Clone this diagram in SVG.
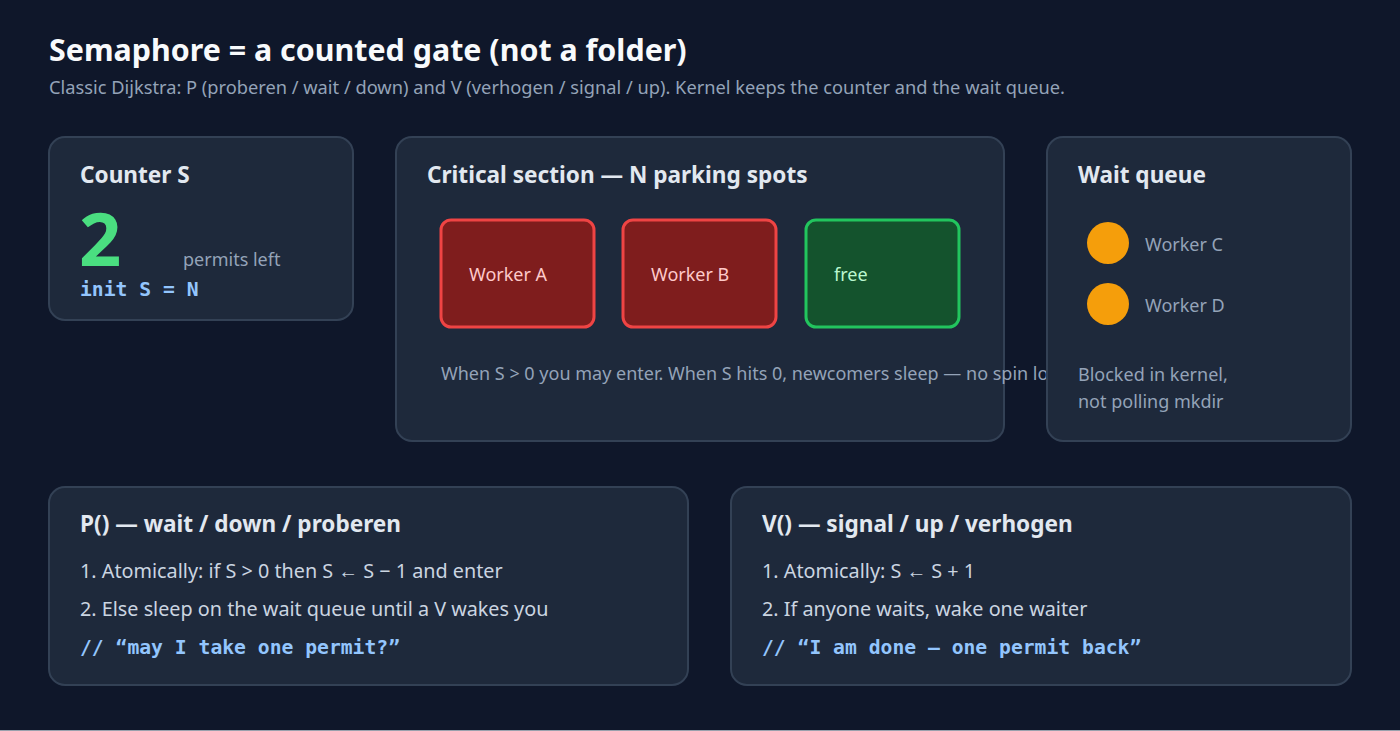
<svg xmlns="http://www.w3.org/2000/svg" width="1400" height="731" viewBox="0 0 1400 731">
<style>
.bg{fill:#0f172a}
.card{fill:#1e293b;stroke:#334155;stroke-width:2}
.t{font-family:"Noto Sans","Liberation Sans",sans-serif}
.h1{font-size:30.4px;font-weight:700;fill:#f8fafc}
.sub{font-size:18.25px;fill:#94a3b8}
.h2{font-size:22.6px;font-weight:700;fill:#e2e8f0}
.muted{font-size:18px;fill:#94a3b8}
.body{font-size:19.8px;fill:#cbd5e1}
.mono{font-family:"DejaVu Sans Mono","Liberation Mono",monospace;font-weight:700;font-size:19.7px;fill:#93c5fd}
.busy{fill:#7f1d1d;stroke:#ef4444;stroke-width:3}
.free{fill:#14532d;stroke:#22c55e;stroke-width:3}
.dot{fill:#f59e0b}
</style>
<rect class="bg" x="0" y="0" width="1400" height="731"/>
<rect x="0" y="730" width="1400" height="1" fill="#9aa1ad"/>
<text class="t h1" x="49" y="61">Semaphore = a counted gate (not a folder)</text>
<text class="t sub" x="49" y="94">Classic Dijkstra: P (proberen / wait / down) and V (verhogen / signal / up). Kernel keeps the counter and the wait queue.</text>

<g id="counter">
<rect class="card" x="49" y="137" width="304" height="183" rx="16"/>
<text class="t h2" x="80" y="183">Counter S</text>
<text class="t" x="79" y="266" font-size="74" font-weight="700" fill="#4ade80">2</text>
<text class="t muted" x="183" y="266">permits left</text>
<text class="mono" x="80" y="296">init S = N</text>
</g>

<g id="critical">
<rect class="card" x="396" y="137" width="608" height="304" rx="16"/>
<text class="t h2" x="427" y="183">Critical section — N parking spots</text>
<rect class="busy" x="441" y="220" width="153" height="107" rx="10"/>
<text class="t" x="469" y="281" font-size="18" fill="#fecaca">Worker A</text>
<rect class="busy" x="623" y="220" width="153" height="107" rx="10"/>
<text class="t" x="651" y="281" font-size="18" fill="#fecaca">Worker B</text>
<rect class="free" x="806" y="220" width="153" height="107" rx="10"/>
<text class="t" x="834" y="281" font-size="18" fill="#bbf7d0">free</text>
<text class="t muted" x="441" y="380" font-size="17.8">When S &gt; 0 you may enter. When S hits 0, newcomers sleep — no spin loop.</text>
</g>

<g id="waitqueue">
<rect class="card" x="1047" y="137" width="304" height="304" rx="16"/>
<text class="t h2" x="1078" y="183">Wait queue</text>
<circle class="dot" cx="1108" cy="243" r="21"/>
<text class="t muted" x="1145" y="251">Worker C</text>
<circle class="dot" cx="1108" cy="304" r="21"/>
<text class="t muted" x="1145" y="312">Worker D</text>
<text class="t muted" x="1078" y="381">Blocked in kernel,</text>
<text class="t muted" x="1078" y="408">not polling mkdir</text>
</g>

<g id="p-op">
<rect class="card" x="49" y="487" width="639" height="198" rx="16"/>
<text class="t h2" x="80" y="532">P() — wait / down / proberen</text>
<text class="t body" x="80" y="578">1. Atomically: if S &gt; 0 then S ← S − 1 and enter</text>
<text class="t body" x="80" y="616">2. Else sleep on the wait queue until a V wakes you</text>
<text class="mono" x="80" y="654">// “may I take one permit?”</text>
</g>

<g id="v-op">
<rect class="card" x="731" y="487" width="620" height="198" rx="16"/>
<text class="t h2" x="762" y="532">V() — signal / up / verhogen</text>
<text class="t body" x="762" y="578">1. Atomically: S ← S + 1</text>
<text class="t body" x="762" y="616">2. If anyone waits, wake one waiter</text>
<text class="mono" x="762" y="654">// “I am done — one permit back”</text>
</g>

<g id="connectors"></g>
</svg>
